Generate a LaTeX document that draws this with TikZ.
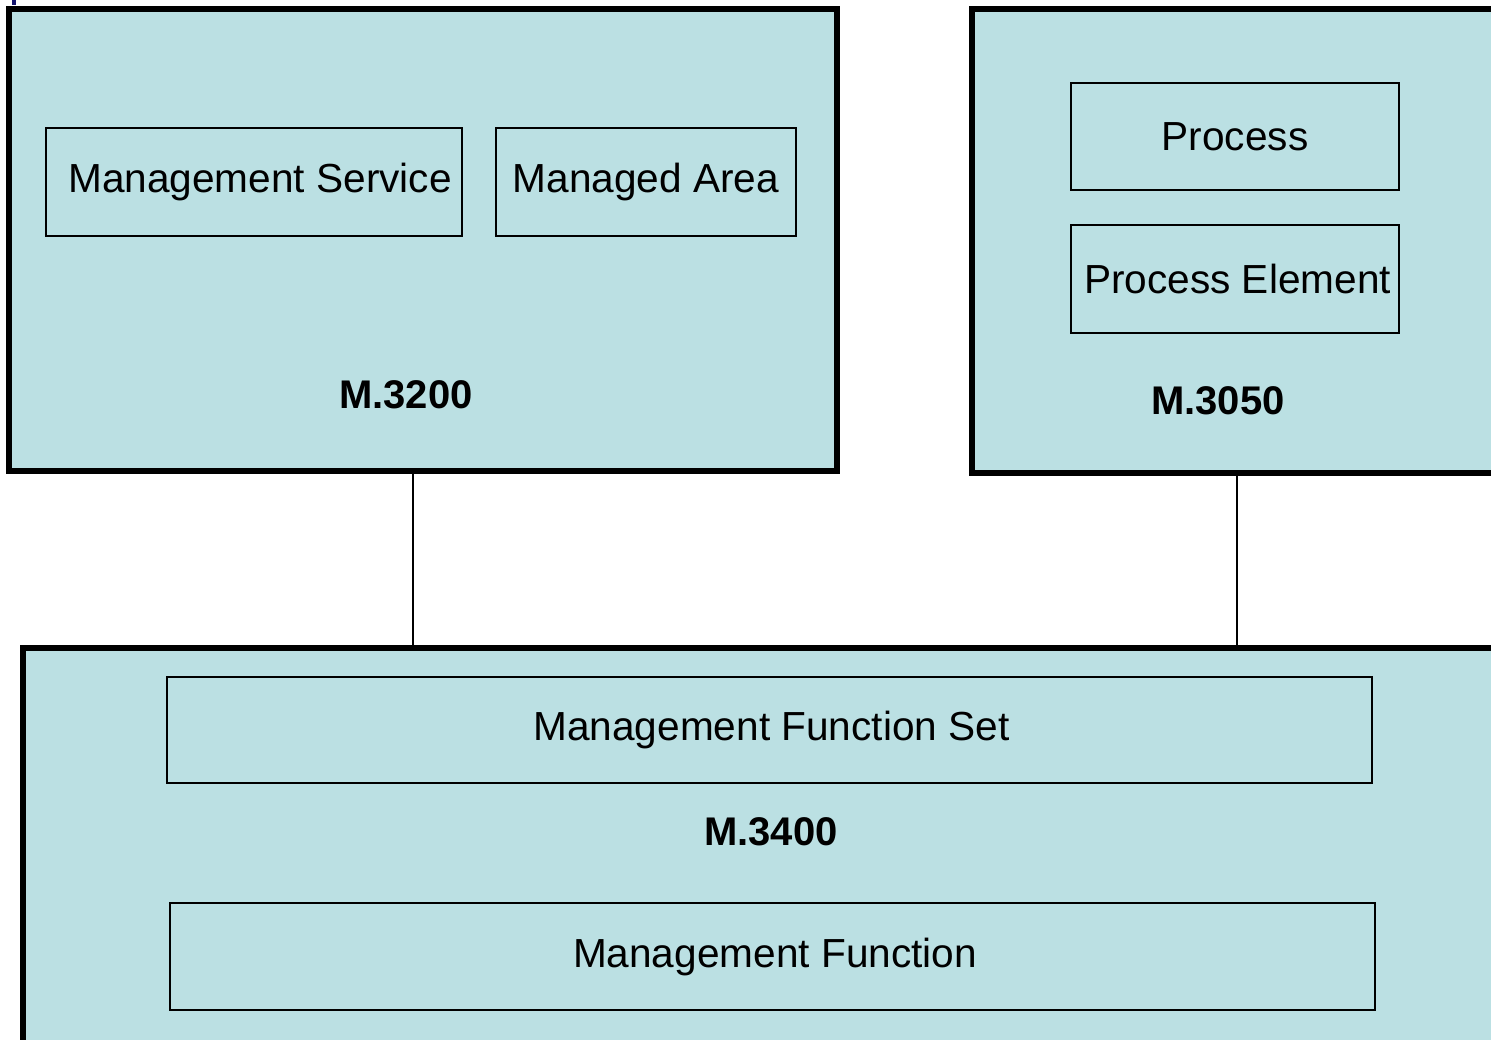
\documentclass[tikz,border=0pt]{standalone}
\usepackage{fontspec}
\setmainfont{Liberation Sans}
\definecolor{boxfill}{RGB}{187,224,227}
\definecolor{navymark}{RGB}{20,20,110}
\begin{document}
\begin{tikzpicture}[x=1pt,y=-1pt,
  outer/.style={draw=black,line width=6pt,fill=boxfill,inner sep=0pt,outer sep=0pt,rectangle},
  inner/.style={draw=black,line width=2.4pt,inner sep=0pt,rectangle,font=\fontsize{40.6}{48}\selectfont},
  lbl/.style={inner sep=0pt,font=\fontsize{40}{48}\selectfont\bfseries},
  conn/.style={draw=black,line width=2.6pt}]
\useasboundingbox (0,0) rectangle (1491,1039);
\clip (0,0) rectangle (1491,1039);
\fill[navymark] (12,0) rectangle (16,5);
% outer boxes
\node[outer,minimum width=828pt,minimum height=462pt] (b1) at (423,240) {};
\node[outer,minimum width=548pt,minimum height=464pt] (b2) at (1246,241) {};
\node[outer,minimum width=1497pt,minimum height=412pt] (b3) at (771.5,854) {};
% connectors
\draw[conn] ([xshift=404pt]b1.south west) -- ([xshift=404pt]b1.south west |- b3.north);
\draw[conn] ([xshift=265pt]b2.south west) -- ([xshift=265pt]b2.south west |- b3.north);
% inner boxes
\node[inner,minimum width=416pt,minimum height=108pt] (ms) at (254,182) {\hspace*{12pt}Management Service};
\node[inner,minimum width=300pt,minimum height=108pt] (ma) at (646,182) {Managed Area};
\node[inner,minimum width=328pt,minimum height=107pt] (pr) at (1235,136.5) {Process};
\node[inner,minimum width=328pt,minimum height=108pt] (pe) at (1235,279) {\hspace*{5pt}Process Element};
\node[inner,minimum width=1205pt,minimum height=106pt] (mfs) at (769.5,730) {\hspace*{4pt}Management Function Set};
\node[inner,minimum width=1205pt,minimum height=107pt] (mf) at (772.5,956.5) {\hspace*{5pt}Management Function};
% labels
\node[lbl] (l1) at (406,395) {M.3200};
\node[lbl] (l2) at (1218,401) {M.3050};
\node[lbl] (l3) at (771,832) {M.3400};
\end{tikzpicture}
\end{document}
